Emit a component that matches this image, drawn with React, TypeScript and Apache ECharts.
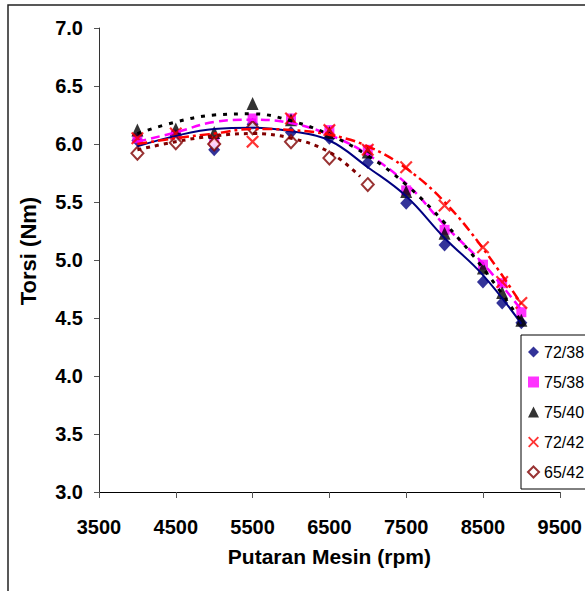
import React, { useEffect, useRef } from "react";
import * as echarts from "echarts";

const FONT = "'Liberation Sans', Arial, sans-serif";

// Measured rpm values
const rpm = [4000, 4500, 5000, 5500, 6000, 6500, 7000, 7500, 8000, 8500, 8750, 9000];
const rpm65 = [4000, 4500, 5000, 5500, 6000, 6500, 7000];

// Torque (Nm) per configuration
const s72_38 = [6.03, 6.07, 5.95, 6.17, 6.10, 6.05, 5.84, 5.49, 5.13, 4.81, 4.63, 4.46];
const s75_38 = [6.05, 6.08, 6.02, 6.22, 6.22, 6.12, 5.95, 5.60, 5.26, 4.96, 4.80, 4.55];
const s75_40 = [6.12, 6.13, 6.10, 6.35, 6.21, 6.10, 5.93, 5.59, 5.23, 4.93, 4.72, 4.48];
const s72_42 = [6.05, 6.09, 6.04, 6.02, 6.22, 6.12, 5.95, 5.80, 5.47, 5.11, 4.81, 4.63];
const s65_42 = [5.92, 6.01, 6.00, 6.14, 6.02, 5.88, 5.65];

// Trendlines
const rpmTrend = [4000, 4500, 5000, 5500, 6000, 6500, 7000, 7500, 8000, 8500, 9000];
const rpmTrend65 = [4000, 4500, 5000, 5500, 6000, 6500, 6900];
const t72_38 = [5.98, 6.07, 6.13, 6.14, 6.11, 6.03, 5.80, 5.55, 5.19, 4.87, 4.45];
const t75_38 = [6.02, 6.10, 6.19, 6.21, 6.18, 6.08, 5.91, 5.66, 5.30, 4.97, 4.57];
const t75_40 = [6.09, 6.19, 6.25, 6.26, 6.20, 6.08, 5.90, 5.65, 5.32, 4.93, 4.47];
const t72_42 = [6.00, 6.05, 6.09, 6.13, 6.12, 6.08, 5.98, 5.79, 5.50, 5.10, 4.62];
const t65_42 = [5.95, 6.02, 6.07, 6.09, 6.05, 5.93, 5.72];

const xTicks = [3500, 4500, 5500, 6500, 7500, 8500, 9500];
const names = ["72/38", "75/38", "75/40", "72/42", "65/42"];

const X_PATH =
  "path://M0,1.2 L1.2,0 L5,3.8 L8.8,0 L10,1.2 L6.2,5 L10,8.8 L8.8,10 L5,6.2 L1.2,10 L0,8.8 L3.8,5 Z";

const zip = (xs: number[], ys: number[]) => ys.map((y, i) => [xs[i], y]);

export default function App() {
  const ref = useRef<HTMLDivElement>(null);
  useEffect(() => {
    if (!ref.current) return;
    const chart = echarts.init(ref.current, null, { renderer: "svg" });

    const scatter = (
      name: string,
      xs: number[],
      ys: number[],
      symbol: string,
      size: number | number[],
      itemStyle: any
    ) => ({
      name,
      type: "scatter",
      data: zip(xs, ys),
      symbol,
      symbolSize: size,
      itemStyle,
      z: 3,
    });

    const trend = (xs: number[], ys: number[], color: string, width: number, type: any) => ({
      type: "line",
      data: zip(xs, ys),
      smooth: 0.4,
      symbol: "none",
      lineStyle: { color, width, type },
      z: 4,
      silent: true,
    });

    chart.setOption({
      animation: false,
      backgroundColor: "#fff",
      grid: { left: 99, top: 28, right: 24, bottom: 99, containLabel: false },
      xAxis: {
        type: "value",
        min: 3500,
        max: 9500,
        name: "Putaran Mesin (rpm)",
        nameLocation: "middle",
        nameGap: 54,
        nameTextStyle: { fontFamily: FONT, fontWeight: "bold", fontSize: 21, color: "#000" },
        axisLine: { show: true, onZero: false, lineStyle: { color: "#000", width: 1 } },
        axisTick: { show: true, length: 6, customValues: xTicks, lineStyle: { color: "#555" } },
        axisLabel: {
          customValues: xTicks,
          margin: 25,
          fontFamily: FONT,
          fontWeight: "bold",
          fontSize: 20,
          color: "#000",
          formatter: (v: number) => String(v),
        },
        splitLine: { show: false },
      },
      yAxis: {
        type: "value",
        min: 3,
        max: 7,
        interval: 0.5,
        name: "Torsi (Nm)",
        nameLocation: "middle",
        nameGap: 60,
        nameTextStyle: {
          fontFamily: FONT,
          fontWeight: "bold",
          fontSize: 22,
          color: "#000",
          padding: [0, 0, 0, 18],
        },
        axisLine: { show: true, lineStyle: { color: "#333", width: 1 } },
        axisTick: { show: true, length: 5, lineStyle: { color: "#555" } },
        axisLabel: {
          margin: 16,
          fontFamily: FONT,
          fontWeight: "bold",
          fontSize: 20,
          color: "#000",
          formatter: (v: number) => v.toFixed(1),
        },
        splitLine: { show: false },
      },
      legend: {
        data: names,
        orient: "vertical",
        left: 521,
        top: 335,
        itemGap: 14,
        itemWidth: 11,
        itemHeight: 11,
        padding: [9, 30, 9, 6],
        borderColor: "#000",
        borderWidth: 1,
        backgroundColor: "#fff",
        textStyle: { fontFamily: FONT, fontSize: 16, color: "#000" },
      },
      graphic: [
        {
          type: "rect",
          shape: { x: 8, y: 5, width: 620, height: 620 },
          style: { fill: "none", stroke: "#222", lineWidth: 1.5 },
          z: 100,
          silent: true,
        },
      ],
      series: [
        trend(rpmTrend, t72_38, "#000080", 2, "solid"),
        trend(rpmTrend, t75_38, "#FF00FF", 2.5, [9, 5]),
        trend(rpmTrend, t75_40, "#000000", 3, [4, 7]),
        trend(rpmTrend, t72_42, "#FF0000", 2.5, [10, 4, 3, 4]),
        trend(rpmTrend65, t65_42, "#800000", 3, [4, 5]),
        scatter(names[0], rpm, s72_38, "diamond", [12, 13], { color: "#000080" }),
        scatter(names[1], rpm, s75_38, "rect", 10, { color: "#FF00FF" }),
        scatter(names[2], rpm, s75_40, "triangle", [12, 13], { color: "#000000" }),
        scatter(names[3], rpm, s72_42, X_PATH, 13, { color: "#FF0000" }),
        scatter(names[4], rpm65, s65_42, "diamond", [12, 13], {
          color: "#ffffff",
          borderColor: "#800000",
          borderWidth: 2,
        }),
      ],
    });
    return () => chart.dispose();
  }, []);

  return (
    <div
      ref={ref}
      style={{ position: "fixed", left: 0, top: 0, width: 585, height: 591, background: "#fff" }}
    />
  );
}
